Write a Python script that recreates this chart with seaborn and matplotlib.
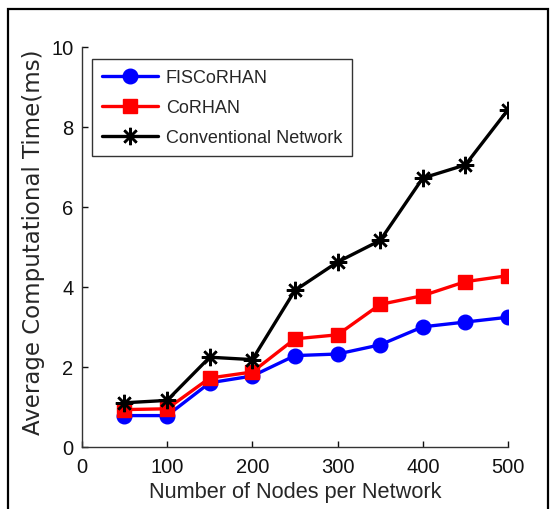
import matplotlib
matplotlib.use("Agg")
import matplotlib.pyplot as plt
from matplotlib.patches import Rectangle
import seaborn as sns
import pandas as pd

nodes = [50, 100, 150, 200, 250, 300, 350, 400, 450, 500]
fiscorhan = [0.78, 0.78, 1.60, 1.77, 2.28, 2.32, 2.55, 3.00, 3.12, 3.24]
corhan = [0.93, 0.95, 1.72, 1.87, 2.70, 2.80, 3.56, 3.78, 4.13, 4.28]
conventional = [1.10, 1.16, 2.24, 2.18, 3.91, 4.62, 5.16, 6.72, 7.05, 8.43]

series_names = ["FISCoRHAN", "CoRHAN", "Conventional Network"]
x_ticks = [0, 100, 200, 300, 400, 500]
y_ticks = [0, 2, 4, 6, 8, 10]

sns.set_style("white")
plt.rcParams["font.family"] = ["Liberation Sans", "DejaVu Sans"]

fig = plt.figure(figsize=(5.57, 5.10), dpi=100)
ax = fig.add_axes([0.147, 0.122, 0.765, 0.784])

styles = [
    dict(color="#0000ff", marker="o", markersize=10.5),
    dict(color="#ff0000", marker="s", markersize=10),
    dict(color="#000000", marker=(8, 2, 0), markersize=12.5, markeredgewidth=1.8),
]
for name, vals, st in zip(series_names, [fiscorhan, corhan, conventional], styles):
    df = pd.DataFrame({"nodes": nodes, "time": vals})
    sns.lineplot(data=df, x="nodes", y="time", ax=ax, label=name,
                 color=st["color"], marker=st["marker"],
                 markersize=st["markersize"],
                 markeredgecolor=st["color"],
                 markeredgewidth=st.get("markeredgewidth", 1.0),
                 linewidth=2.4)

ax.set_xlim(0, 500)
ax.set_ylim(0, 10)
ax.set_xticks(x_ticks)
ax.set_yticks(y_ticks)
ax.tick_params(direction="in", length=4, width=1, labelsize=14.5,
               colors="#111111", pad=5, bottom=True, left=True)
ax.tick_params(axis="x", pad=7)
ax.tick_params(axis="y", pad=6)
for side in ["top", "right"]:
    ax.spines[side].set_visible(False)
for side in ["left", "bottom"]:
    ax.spines[side].set_color("#333333")
    ax.spines[side].set_linewidth(1.0)

ax.set_xlabel("Number of Nodes per Network", fontsize=15.7, labelpad=4)
ax.set_ylabel("Average Computational Time(ms)", fontsize=16.5,
              family="DejaVu Sans")
ax.yaxis.set_label_coords(-0.086, 0.515)

leg = ax.legend(loc="upper left", bbox_to_anchor=(0.023, 0.97),
                borderaxespad=0, fontsize=13,
                frameon=True, fancybox=False, edgecolor="black",
                handlelength=3.15, borderpad=0.55, labelspacing=0.72,
                handletextpad=0.4)
leg.get_frame().set_linewidth(1.0)

fig.patches.append(Rectangle((8 / 557, -0.05), 540 / 557, 1 - 10 / 510 + 0.05,
                             transform=fig.transFigure, fill=False,
                             edgecolor="black", linewidth=1.6))

fig.savefig("out.png", dpi=100)
